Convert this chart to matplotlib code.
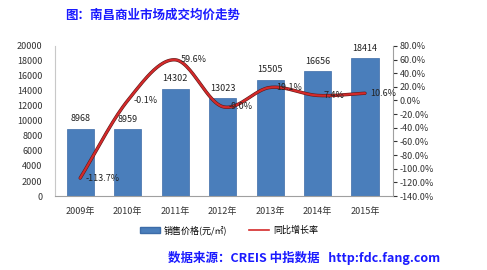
import numpy as np
import matplotlib
matplotlib.use("Agg")
from matplotlib import pyplot as plt
from matplotlib.lines import Line2D
from matplotlib.patches import Patch

plt.rcParams["font.family"] = ["Noto Sans CJK SC", "DejaVu Sans"]

# dati
years = ["2009年", "2010年", "2011年", "2012年", "2013年", "2014年", "2015年"]
price = [8968, 8959, 14302, 13023, 15505, 16656, 18414]
growth = [-113.7, -0.1, 59.6, -9.0, 19.1, 7.4, 10.6]
left_ticks = list(range(0, 20001, 2000))
right_ticks = list(range(-140, 81, 20))

bar_color = "#4a7ebb"
line_color = "#d42a2a"


def catmull_rom(xs, ys, n=30):
    # curva smussata tipo Excel
    xs = np.asarray(xs, float)
    ys = np.asarray(ys, float)
    px = np.concatenate([[2 * xs[0] - xs[1]], xs, [2 * xs[-1] - xs[-2]]])
    py = np.concatenate([[2 * ys[0] - ys[1]], ys, [2 * ys[-1] - ys[-2]]])
    ox, oy = [], []
    t = np.linspace(0, 1, n)
    for i in range(1, len(px) - 2):
        for p, out in ((px, ox), (py, oy)):
            p0, p1, p2, p3 = p[i - 1], p[i], p[i + 1], p[i + 2]
            out.extend(0.5 * (2 * p1 + (-p0 + p2) * t
                              + (2 * p0 - 5 * p1 + 4 * p2 - p3) * t ** 2
                              + (-p0 + 3 * p1 - 3 * p2 + p3) * t ** 3))
    return ox, oy


fig = plt.figure(figsize=(4.87, 2.70), dpi=100)
ax = fig.add_axes([0.113, 0.274, 0.694, 0.556])
x = np.arange(len(years))

ax.bar(x, price, width=0.57, color=bar_color, edgecolor="#3d6ca8", linewidth=0.5, zorder=2)
for xi, v in zip(x, price):
    ax.text(xi, v + 700, str(v), ha="center", va="bottom", fontsize=6.5, color="#222222")

ax.set_xlim(-0.53, 6.59)
ax.set_ylim(0, 20000)
ax.set_yticks(left_ticks)
ax.set_yticklabels([str(t) for t in left_ticks])
ax.set_xticks(x)
ax.set_xticklabels(years)
ax.tick_params(axis="both", labelsize=6.5, colors="#333333", length=0, pad=9)
ax.tick_params(axis="x", pad=8)
for s in ["top", "right"]:
    ax.spines[s].set_visible(False)
ax.spines["left"].set_color("#c8c8c8")
ax.spines["bottom"].set_color("#a0a0a0")

ax2 = ax.twinx()
ax2.set_ylim(-140, 80)
ax2.set_yticks(right_ticks)
ax2.set_yticklabels([f"{t:.1f}%" for t in right_ticks])
ax2.tick_params(axis="y", labelsize=6.5, colors="#333333", length=3, pad=2)
for s in ["top", "left", "bottom"]:
    ax2.spines[s].set_visible(False)
ax2.spines["right"].set_color("#a0a0a0")

sx, sy = catmull_rom(x, growth)
ax2.plot(sx, sy, color="#5a1a1a", linewidth=2.4, zorder=3, solid_capstyle="round")
ax2.plot(sx, sy, color=line_color, linewidth=1.6, zorder=4, solid_capstyle="round")
for xi, g in zip(x, growth):
    ax2.text(xi + 0.12, g, f"{g:.1f}%", ha="left", va="center", fontsize=6.5,
             color="#222222", zorder=5)

handles = [Patch(facecolor=bar_color, edgecolor="#3d6ca8"),
           Line2D([0], [0], color=line_color, linewidth=1.2)]
fig.legend(handles, ["销售价格(元/㎡)", "同比增长率"], loc="center",
           bbox_to_anchor=(0.47, 0.148), ncol=2, frameon=False, fontsize=6.5,
           handlelength=2.2, handleheight=0.6, columnspacing=2.5, handletextpad=0.4)

fig.text(0.133, 0.945, "图：南昌商业市场成交均价走势", fontsize=9, fontweight="bold",
         color="#1a1aff", ha="left", va="center")
fig.text(0.345, 0.045, "数据来源：CREIS 中指数据   http:fdc.fang.com", fontsize=9,
         fontweight="bold", color="#1a1aff", ha="left", va="center")

fig.savefig("out.png", dpi=100)
